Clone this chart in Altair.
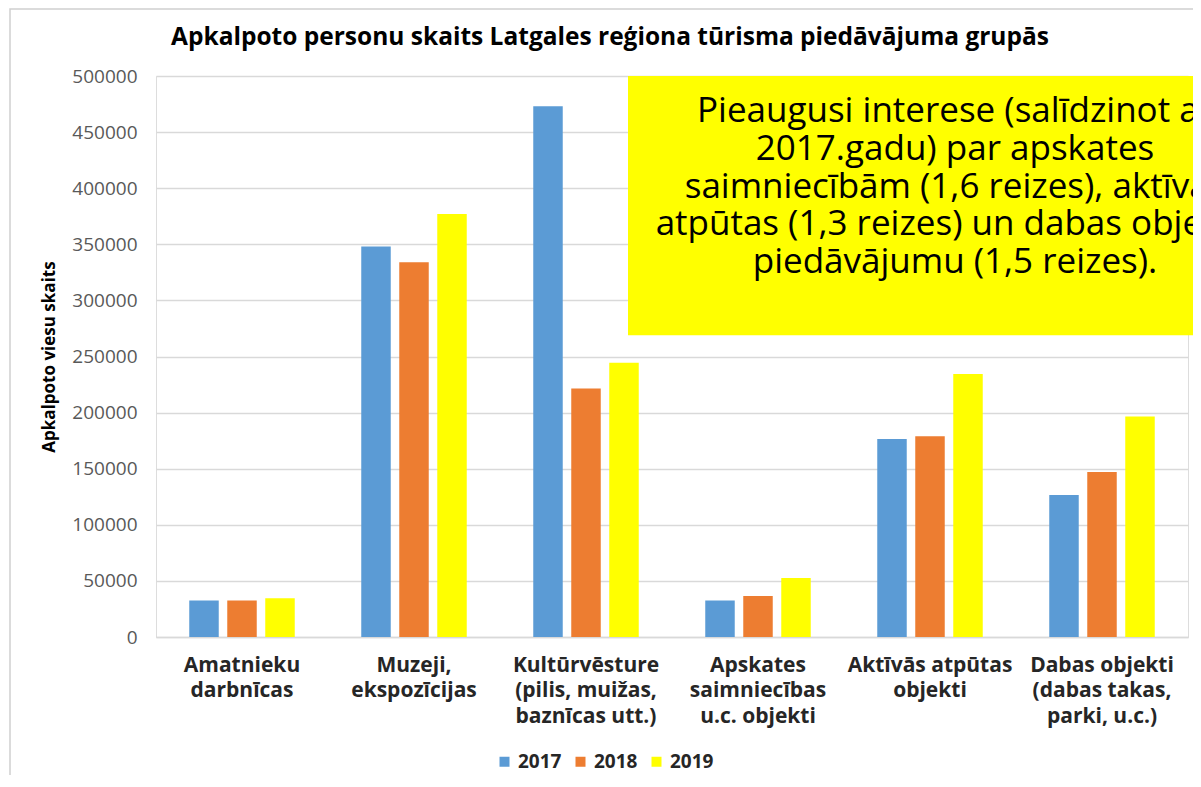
import altair as alt
import pandas as pd

categories = [
    "Amatnieku\ndarbnīcas",
    "Muzeji,\nekspozīcijas",
    "Kultūrvēsture\n(pilis, muižas,\nbaznīcas utt.)",
    "Apskates\nsaimniecības\nu.c. objekti",
    "Aktīvās atpūtas\nobjekti",
    "Dabas objekti\n(dabas takas,\nparki, u.c.)",
]
years = ["2017", "2018", "2019"]
v2017 = [32500, 348000, 473000, 32500, 176500, 126500]
v2018 = [32500, 334000, 221500, 36500, 179000, 147000]
v2019 = [34500, 377000, 244500, 52500, 234500, 196500]
y_ticks = [0, 50000, 100000, 150000, 200000, 250000, 300000, 350000, 400000, 450000, 500000]
colors = ["#5B9BD5", "#ED7D31", "#FFFF00"]

title_text = "Apkalpoto personu skaits Latgales reģiona tūrisma piedāvājuma grupās"
y_title = "Apkalpoto viesu skaits"
note_lines = [
    "Pieaugusi interese (salīdzinot ar",
    "2017.gadu) par apskates",
    "saimniecībām (1,6 reizes),  aktīvās",
    "atpūtas (1,3 reizes) un dabas objektu",
    "piedāvājumu (1,5 reizes).",
]

rows = []
for i, c in enumerate(categories):
    for y, vals in zip(years, [v2017, v2018, v2019]):
        rows.append({"cat": c, "year": y, "value": vals[i]})
df = pd.DataFrame(rows)

FONT = "Open Sans"

bars = alt.Chart(df).mark_bar().encode(
    x=alt.X(
        "cat:N",
        sort=categories,
        scale=alt.Scale(paddingInner=0, paddingOuter=0),
        axis=alt.Axis(
            title=None,
            labelAngle=0,
            labelExpr="split(datum.label, '\\n')",
            labelFont=FONT,
            labelFontSize=21,
            labelFontWeight="bold",
            labelColor="#262626",
            labelLineHeight=25.5,
            labelPadding=17,
            labelBaseline="top",
            ticks=False,
            domain=True,
            domainColor="#D9D9D9",
            domainWidth=1.5,
            grid=False,
        ),
    ),
    xOffset=alt.XOffset(
        "year:N",
        sort=years,
        scale=alt.Scale(paddingInner=0.224, paddingOuter=0.875),
    ),
    y=alt.Y(
        "value:Q",
        scale=alt.Scale(domain=[0, 500000], nice=False),
        axis=alt.Axis(
            title=y_title,
            titleFont=FONT,
            titleFontSize=17,
            titleFontWeight="bold",
            titleColor="#000000",
            titlePadding=13,
            values=y_ticks,
            format="d",
            labelFont=FONT,
            labelFontSize=19,
            labelColor="#595959",
            labelPadding=19,
            ticks=False,
            domain=False,
            grid=True,
            gridColor="#D9D9D9",
            gridWidth=1.5,
        ),
    ),
    color=alt.Color(
        "year:N",
        sort=years,
        scale=alt.Scale(domain=years, range=colors),
        legend=alt.Legend(
            title=None,
            orient="none",
            direction="horizontal",
            legendX=339,
            legendY=676,
            symbolType="square",
            symbolSize=100,
            symbolStrokeWidth=0,
            labelFont=FONT,
            labelFontSize=19,
            labelFontWeight="bold",
            labelColor="#262626",
            labelOffset=4,
            columnPadding=9,
        ),
    ),
)

frame = alt.Chart(pd.DataFrame({"f": [0]})).mark_rect(
    fillOpacity=0, stroke="#D0D0D0", strokeWidth=1.5
).encode(
    x=alt.value(-146), x2=alt.value(1300), y=alt.value(-67), y2=alt.value(900)
)

box = alt.Chart(pd.DataFrame({"f": [0]})).mark_rect(color="#FFFF00").encode(
    x=alt.value(472), x2=alt.value(1130),
    y=alt.datum(500000), y2=alt.datum(269000),
)

note = alt.Chart(pd.DataFrame({"f": [0]})).mark_text(
    text=note_lines,
    font=FONT,
    fontSize=35,
    lineHeight=37.75,
    align="center",
    baseline="middle",
    color="#000000",
).encode(
    x=alt.value(799),
    y=alt.datum(468800),
)

chart = alt.layer(frame, bars, box, note).properties(
    width=1032,
    height=561,
    padding={"left": 148, "top": 68, "right": 5, "bottom": 138},
    autosize=alt.AutoSizeParams(type="none"),
    title=alt.TitleParams(
        text=title_text,
        font=FONT,
        fontSize=24.5,
        fontWeight="bold",
        color="#000000",
        anchor="middle",
        frame="group",
        dx=-62,
        offset=-42,
    ),
).configure_view(stroke=None).configure(background="white")

chart.save("out.html", embed_options={"renderer": "svg", "actions": False})
